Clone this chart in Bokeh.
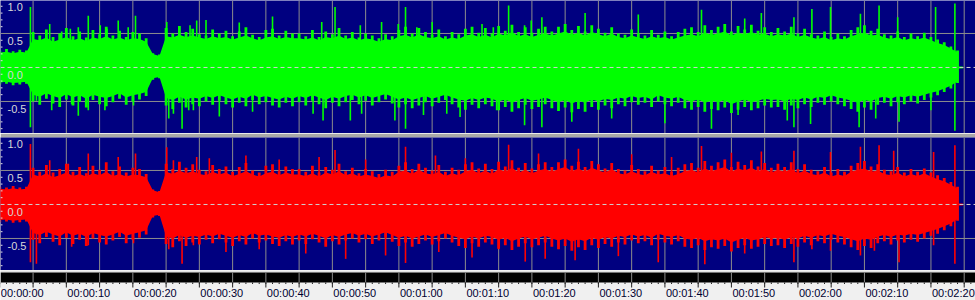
import numpy as np
from bokeh.plotting import figure
from bokeh.layouts import column
from bokeh.models import Range1d, Label, Span, BoxAnnotation
from bokeh.embed import file_html
from bokeh.resources import INLINE
from bokeh.core.properties import value

# ---------------- data ----------------
seconds = np.arange(145)          # one envelope sample per second of audio

# solid body of the waveform (per second)
left_upper = [0.22,0.23,0.21,0.23,0.22,
    0.42,0.40,0.44,0.38,0.41,0.45,0.40,0.43,0.39,0.44,0.42,0.46,0.41,0.44,0.40,0.43,0.42,0.38,
    0.20,0.17,
    0.46,0.44,0.48,0.45,0.47,0.44,0.42,0.46,0.43,0.45,0.41,0.44,0.47,0.43,0.40,0.44,0.46,0.42,0.45,0.43,
    0.43,0.41,0.44,0.40,0.45,0.43,0.47,0.42,0.44,0.40,0.43,0.41,0.38,0.42,0.40,0.46,0.48,0.44,0.49,0.45,
    0.43,0.46,0.41,0.44,0.42,0.47,0.49,0.45,0.48,0.44,0.50,0.47,0.52,0.46,0.49,0.45,0.48,0.50,0.47,
    0.50,0.53,0.48,0.51,0.47,0.52,0.49,0.46,0.50,0.45,0.43,0.47,0.44,0.42,0.46,0.43,0.45,0.41,0.44,0.47,
    0.49,0.46,0.51,0.48,0.50,0.53,0.47,0.51,0.49,0.52,0.48,0.50,0.46,
    0.49,0.47,0.50,0.45,0.48,0.44,0.42,0.45,0.40,0.43,0.41,0.46,0.49,0.51,0.47,0.48,0.44,0.42,0.45,0.40,
    0.43,0.41,0.44,0.40,0.36,0.33,0.28,0.22]
left_lower = [-0.22,-0.21,-0.23,-0.22,-0.21,
    -0.40,-0.43,-0.38,-0.42,-0.45,-0.39,-0.44,-0.41,-0.46,-0.40,-0.43,-0.45,-0.42,-0.38,-0.44,-0.41,-0.39,-0.36,
    -0.16,-0.14,
    -0.45,-0.48,-0.43,-0.47,-0.44,-0.46,-0.42,-0.45,-0.41,-0.44,-0.47,-0.43,-0.46,-0.40,-0.44,-0.42,-0.45,-0.47,-0.43,-0.46,
    -0.42,-0.45,-0.41,-0.44,-0.48,-0.43,-0.46,-0.42,-0.40,-0.44,-0.41,-0.45,-0.42,-0.39,-0.43,-0.47,-0.44,-0.48,-0.45,-0.42,
    -0.46,-0.43,-0.40,-0.44,-0.47,-0.49,-0.45,-0.48,-0.44,-0.46,-0.50,-0.47,-0.52,-0.48,-0.45,-0.49,-0.47,-0.44,-0.48,
    -0.51,-0.48,-0.53,-0.49,-0.52,-0.47,-0.50,-0.46,-0.48,-0.44,-0.46,-0.42,-0.45,-0.43,-0.47,-0.41,-0.44,-0.46,-0.43,-0.48,
    -0.50,-0.47,-0.52,-0.49,-0.51,-0.48,-0.54,-0.50,-0.47,-0.51,-0.49,-0.46,-0.48,
    -0.47,-0.50,-0.46,-0.48,-0.44,-0.47,-0.43,-0.45,-0.41,-0.44,-0.46,-0.49,-0.52,-0.48,-0.50,-0.45,-0.43,-0.46,-0.42,-0.44,
    -0.41,-0.43,-0.40,-0.37,-0.35,-0.31,-0.27,-0.20]
right_upper = [0.23,0.22,0.24,0.22,0.23,
    0.44,0.41,0.46,0.40,0.43,0.47,0.42,0.45,0.41,0.46,0.43,0.48,0.42,0.45,0.41,0.44,0.43,0.40,
    0.21,0.18,
    0.48,0.45,0.50,0.46,0.49,0.45,0.43,0.48,0.44,0.47,0.42,0.45,0.49,0.44,0.41,0.46,0.48,0.43,0.47,0.44,
    0.44,0.42,0.46,0.41,0.47,0.44,0.49,0.43,0.46,0.41,0.44,0.42,0.39,0.43,0.41,0.48,0.50,0.45,0.51,0.46,
    0.44,0.48,0.42,0.46,0.43,0.49,0.51,0.46,0.50,0.45,0.52,0.48,0.54,0.47,0.51,0.46,0.50,0.52,0.48,
    0.52,0.55,0.49,0.53,0.48,0.54,0.50,0.47,0.52,0.46,0.44,0.49,0.45,0.43,0.48,0.44,0.46,0.42,0.45,0.49,
    0.51,0.47,0.53,0.49,0.52,0.55,0.48,0.53,0.50,0.54,0.49,0.52,0.47,
    0.51,0.48,0.52,0.46,0.50,0.45,0.43,0.47,0.41,0.44,0.42,0.48,0.51,0.53,0.48,0.50,0.45,0.43,0.47,0.41,
    0.45,0.42,0.46,0.41,0.37,0.34,0.29,0.23]
right_lower = [-0.23,-0.22,-0.24,-0.23,-0.22,
    -0.42,-0.45,-0.40,-0.44,-0.47,-0.41,-0.46,-0.43,-0.48,-0.42,-0.45,-0.47,-0.44,-0.40,-0.46,-0.43,-0.41,-0.38,
    -0.17,-0.15,
    -0.47,-0.50,-0.45,-0.49,-0.46,-0.48,-0.44,-0.47,-0.43,-0.46,-0.49,-0.45,-0.48,-0.42,-0.46,-0.44,-0.47,-0.49,-0.45,-0.48,
    -0.44,-0.47,-0.43,-0.46,-0.50,-0.45,-0.48,-0.44,-0.42,-0.46,-0.43,-0.47,-0.44,-0.41,-0.45,-0.49,-0.46,-0.50,-0.47,-0.44,
    -0.48,-0.45,-0.42,-0.46,-0.49,-0.51,-0.47,-0.50,-0.46,-0.48,-0.52,-0.49,-0.54,-0.50,-0.47,-0.51,-0.49,-0.46,-0.50,
    -0.53,-0.50,-0.55,-0.51,-0.54,-0.49,-0.52,-0.48,-0.50,-0.46,-0.48,-0.44,-0.47,-0.45,-0.49,-0.43,-0.46,-0.48,-0.45,-0.50,
    -0.52,-0.49,-0.54,-0.51,-0.53,-0.50,-0.56,-0.52,-0.49,-0.53,-0.51,-0.48,-0.50,
    -0.49,-0.52,-0.48,-0.50,-0.46,-0.49,-0.45,-0.47,-0.43,-0.46,-0.48,-0.51,-0.54,-0.50,-0.52,-0.47,-0.45,-0.48,-0.44,-0.46,
    -0.43,-0.45,-0.42,-0.39,-0.36,-0.32,-0.28,-0.21]

# ragged fringe of short transients (per-second maxima)
left_fringe_up = [0.25,0.27,0.24,0.26,0.25,
    0.52,0.47,0.56,0.45,0.50,0.58,0.46,0.53,0.44,0.55,0.49,0.60,0.47,0.54,0.45,0.52,0.50,0.43,
    0.21,0.19,
    0.58,0.50,0.61,0.52,0.57,0.49,0.47,0.56,0.50,0.54,0.46,0.53,0.59,0.48,0.45,0.55,0.57,0.47,0.54,0.50,
    0.50,0.46,0.55,0.45,0.53,0.49,0.58,0.47,0.52,0.44,0.50,0.47,0.43,0.49,0.46,0.55,0.60,0.50,0.58,0.52,
    0.48,0.56,0.46,0.52,0.49,0.57,0.60,0.51,0.58,0.50,0.61,0.54,0.63,0.52,0.59,0.51,0.57,0.60,0.53,
    0.60,0.64,0.55,0.61,0.53,0.62,0.57,0.51,0.59,0.50,0.48,0.56,0.50,0.47,0.55,0.48,0.53,0.46,0.52,0.57,
    0.59,0.52,0.62,0.55,0.60,0.64,0.53,0.61,0.56,0.63,0.54,0.59,0.52,
    0.58,0.53,0.60,0.50,0.57,0.49,0.47,0.53,0.45,0.50,0.46,0.55,0.59,0.62,0.54,0.57,0.49,0.47,0.53,0.45,
    0.50,0.46,0.51,0.45,0.41,0.37,0.31,0.25]
left_fringe_dn = [-0.25,-0.24,-0.26,-0.25,-0.24,
    -0.50,-0.55,-0.46,-0.53,-0.58,-0.47,-0.56,-0.50,-0.59,-0.48,-0.54,-0.57,-0.51,-0.46,-0.55,-0.50,-0.47,-0.42,
    -0.18,-0.16,
    -0.56,-0.61,-0.52,-0.59,-0.54,-0.57,-0.50,-0.55,-0.49,-0.54,-0.59,-0.52,-0.57,-0.48,-0.54,-0.51,-0.56,-0.59,-0.52,-0.57,
    -0.51,-0.56,-0.49,-0.54,-0.60,-0.52,-0.57,-0.51,-0.48,-0.54,-0.49,-0.56,-0.51,-0.47,-0.53,-0.59,-0.54,-0.60,-0.56,-0.51,
    -0.57,-0.52,-0.48,-0.54,-0.59,-0.62,-0.55,-0.60,-0.54,-0.57,-0.63,-0.58,-0.65,-0.60,-0.55,-0.61,-0.58,-0.54,-0.60,
    -0.64,-0.59,-0.66,-0.61,-0.65,-0.58,-0.62,-0.56,-0.60,-0.54,-0.57,-0.51,-0.55,-0.52,-0.58,-0.50,-0.54,-0.57,-0.52,-0.60,
    -0.62,-0.58,-0.65,-0.61,-0.63,-0.59,-0.67,-0.62,-0.58,-0.63,-0.60,-0.56,-0.59,
    -0.58,-0.62,-0.56,-0.60,-0.54,-0.58,-0.52,-0.55,-0.50,-0.54,-0.57,-0.61,-0.65,-0.59,-0.62,-0.55,-0.52,-0.57,-0.51,-0.54,
    -0.50,-0.53,-0.48,-0.44,-0.41,-0.36,-0.31,-0.23]
right_fringe_up = [0.26,0.25,0.27,0.25,0.26,
    0.54,0.48,0.58,0.47,0.52,0.60,0.48,0.55,0.46,0.57,0.51,0.62,0.49,0.56,0.47,0.54,0.52,0.45,
    0.22,0.20,
    0.60,0.52,0.63,0.54,0.59,0.51,0.49,0.58,0.52,0.56,0.48,0.55,0.61,0.50,0.47,0.57,0.59,0.49,0.56,0.52,
    0.52,0.48,0.57,0.47,0.55,0.51,0.60,0.49,0.54,0.46,0.52,0.49,0.45,0.51,0.48,0.57,0.62,0.52,0.60,0.54,
    0.50,0.58,0.48,0.54,0.51,0.59,0.62,0.53,0.60,0.52,0.63,0.56,0.65,0.54,0.61,0.53,0.59,0.62,0.55,
    0.62,0.66,0.57,0.63,0.55,0.64,0.59,0.53,0.61,0.52,0.50,0.58,0.52,0.49,0.57,0.50,0.55,0.48,0.54,0.59,
    0.61,0.54,0.64,0.57,0.62,0.66,0.55,0.63,0.58,0.65,0.56,0.61,0.54,
    0.60,0.55,0.62,0.52,0.59,0.51,0.49,0.55,0.47,0.52,0.48,0.57,0.61,0.64,0.56,0.59,0.51,0.49,0.55,0.47,
    0.52,0.48,0.53,0.47,0.43,0.39,0.33,0.26]
right_fringe_dn = [-0.26,-0.25,-0.27,-0.26,-0.25,
    -0.52,-0.57,-0.48,-0.55,-0.60,-0.49,-0.58,-0.52,-0.61,-0.50,-0.56,-0.59,-0.53,-0.48,-0.57,-0.52,-0.49,-0.44,
    -0.19,-0.17,
    -0.58,-0.63,-0.54,-0.61,-0.56,-0.59,-0.52,-0.57,-0.51,-0.56,-0.61,-0.54,-0.59,-0.50,-0.56,-0.53,-0.58,-0.61,-0.54,-0.59,
    -0.53,-0.58,-0.51,-0.56,-0.62,-0.54,-0.59,-0.53,-0.50,-0.56,-0.51,-0.58,-0.53,-0.49,-0.55,-0.61,-0.56,-0.62,-0.58,-0.53,
    -0.59,-0.54,-0.50,-0.56,-0.61,-0.64,-0.57,-0.62,-0.56,-0.59,-0.65,-0.60,-0.67,-0.62,-0.57,-0.63,-0.60,-0.56,-0.62,
    -0.66,-0.61,-0.68,-0.63,-0.67,-0.60,-0.64,-0.58,-0.62,-0.56,-0.59,-0.53,-0.57,-0.54,-0.60,-0.52,-0.56,-0.59,-0.54,-0.62,
    -0.64,-0.60,-0.67,-0.63,-0.65,-0.61,-0.69,-0.64,-0.60,-0.65,-0.62,-0.58,-0.61,
    -0.60,-0.64,-0.58,-0.62,-0.56,-0.60,-0.54,-0.57,-0.52,-0.56,-0.59,-0.63,-0.67,-0.61,-0.64,-0.57,-0.54,-0.59,-0.53,-0.56,
    -0.52,-0.55,-0.50,-0.46,-0.43,-0.38,-0.32,-0.24]

# isolated peaks (time in s, amplitude)
left_peak_up_t = [4.6,7.5,9.3,10.6,11.8,13.3,15.1,16.1,17.8,19.3,20.4,25.1,28.6,29.6,31.0,36.0,41.0,48.4,50.4,54.2,
    57.4,59.9,61.0,62.7,65.0,72.5,74.2,76.5,78.9,79.9,81.5,88.0,96.0,105.5,112.0,114.5,119.4,122.1,124.9,129.4,
    132.2,135.0,140.7,143.6]
left_peak_up_v = [0.89,0.64,0.53,0.57,0.59,0.76,0.62,0.57,0.69,0.59,0.76,0.67,0.62,0.69,0.70,0.66,0.75,0.67,0.89,0.62,
    0.67,0.64,0.89,0.59,0.67,0.64,0.59,0.91,0.62,0.69,0.74,0.80,0.78,0.85,0.72,0.80,0.74,0.86,0.89,0.79,
    0.91,0.74,0.89,0.94]
left_peak_dn_t = [4.6,5.5,7.8,10.8,11.8,13.3,15.8,20.1,25.4,26.1,27.4,28.4,29.1,33.0,38.0,47.1,48.6,52.7,54.4,59.4,
    61.0,63.7,67.2,69.2,74.7,78.9,81.5,86.0,92.0,100.0,107.0,111.0,118.4,119.4,121.9,129.2,131.7,135.2,140.0,143.6]
left_peak_dn_v = [-0.88,-0.49,-0.63,-0.54,-0.71,-0.63,-0.63,-0.56,-0.75,-0.68,-0.90,-0.63,-0.63,-0.72,-0.65,-0.68,-0.78,-0.78,-0.68,-0.78,
    -0.90,-0.70,-0.68,-0.73,-0.63,-0.85,-0.88,-0.80,-0.75,-0.82,-0.90,-0.70,-0.78,-0.88,-0.83,-0.88,-0.75,-0.80,-0.63,-0.93]
right_peak_up_t = [4.6,7.5,10.3,13.3,17.8,20.4,25.1,26.1,29.6,31.5,37.0,42.0,48.0,50.4,55.0,61.0,65.5,70.0,76.5,81.0,
    87.0,95.0,101.0,105.5,110.0,114.5,119.4,124.9,129.4,132.2,134.4,140.4,143.6]
right_peak_up_v = [0.89,0.65,0.60,0.75,0.70,0.75,0.84,0.65,0.70,0.68,0.72,0.66,0.70,0.80,0.66,0.85,0.72,0.68,0.88,0.75,
    0.82,0.74,0.70,0.86,0.76,0.78,0.79,0.77,0.85,0.87,0.79,0.77,0.87]
right_peak_dn_t = [4.6,5.5,10.8,13.3,15.1,20.1,25.4,27.4,29.1,34.0,39.0,46.0,52.0,58.0,61.0,66.0,71.0,75.0,79.0,82.0,
    86.5,93.0,99.0,106.0,112.0,119.4,122.1,124.9,129.4,131.5,135.2,140.4,143.6]
right_peak_dn_v = [-0.85,-0.87,-0.62,-0.60,-0.55,-0.57,-0.66,-0.87,-0.60,-0.70,-0.66,-0.72,-0.80,-0.75,-0.86,-0.70,-0.78,-0.66,-0.84,-0.80,
    -0.82,-0.76,-0.85,-0.88,-0.72,-0.85,-0.66,-0.68,-0.75,-0.68,-0.85,-0.60,-0.87]

tail_t = [144.0, 144.8]          # faint near-silent tail after the music stops
tail_level = [0.0, 0.0]

grid_times = [0,5,10,15,20,25,30,35,40,45,50,55,60,65,70,75,80,85,90,95,100,105,110,115,120,125,130,135,140,145]
label_times = [0,10,20,30,40,50,60,70,80,90,100,110,120,130,140]
time_labels = ["00:00:00","00:00:10","00:00:20","00:00:30","00:00:40","00:00:50","00:01:00","00:01:10",
               "00:01:20","00:01:30","00:01:40","00:01:50","00:02:00","00:02:10","00:02:20"]
ruler_seconds = np.arange(0, 147)
amp_ticks = [1.0, 0.5, 0.0, -0.5]
amp_labels = ["1.0", "0.5", "0.0", "-0.5"]
amp_minor = [0.9,0.8,0.7,0.6,0.4,0.3,0.2,0.1,-0.1,-0.2,-0.3,-0.4,-0.6,-0.7,-0.8,-0.9]

# ---------------- styling ----------------
NAVY = "#000080"
GRID = "#8c8c8c"
FONT = "Liberation Sans"
W = 975
xr = Range1d(0.1, 146.7)


def channel(upper, lower, fr_up, fr_dn, up_t, up_v, dn_t, dn_v, color, height, top_border):
    p = figure(width=W, height=height, x_range=xr, y_range=Range1d(-0.971, 0.985),
               output_backend="svg", toolbar_location=None, x_axis_type=None, y_axis_type=None,
               min_border=0, min_border_top=top_border, title=None,
               background_fill_color=NAVY, border_fill_color="#a8a8a8", outline_line_color=None)
    for t in grid_times:
        p.add_layout(Span(location=t, dimension="height", line_color=GRID, line_width=1, level="underlay"))
    for a in (0.5, -0.5, 1.0):
        p.add_layout(Span(location=a, dimension="width", line_color=GRID, line_width=1, level="underlay"))
    p.varea(x=seconds, y1=lower, y2=upper, fill_color=color)
    p.vbar(x=seconds, bottom=fr_dn, top=fr_up, width=0.42, fill_color=color, line_color=None)
    p.segment(x0=up_t, y0=[0] * len(up_t), x1=up_t, y1=up_v, line_color=color, line_width=1.6)
    p.segment(x0=dn_t, y0=[0] * len(dn_t), x1=dn_t, y1=dn_v, line_color=color, line_width=1.6)
    p.line(x=tail_t, y=tail_level, line_color=color, line_width=2)
    # small amplitude ticks on the left edge
    p.segment(x0=[xr.start] * len(amp_minor), y0=amp_minor, x1=[xr.start + 0.3] * len(amp_minor), y1=amp_minor,
              line_color="#e0e0e0", line_width=1)
    p.add_layout(Span(location=0, dimension="width", line_color="#d0d0d0", line_width=1,
                      line_dash="4 3", level="annotation"))
    for a, s in zip(amp_ticks, amp_labels):
        p.add_layout(Label(x=7, x_units="screen", y=a, y_offset=-7.5, text=s,
                           text_baseline="middle", text_align="left",
                           text_font=FONT, text_font_size="11px", text_color="#d8d8d8"))
    return p


top = channel(left_upper, left_lower, left_fringe_up, left_fringe_dn,
              left_peak_up_t, left_peak_up_v, left_peak_dn_t, left_peak_dn_v, "#00ff00", 133, 0)
bottom = channel(right_upper, right_lower, right_fringe_up, right_fringe_dn,
                 right_peak_up_t, right_peak_up_v, right_peak_dn_t, right_peak_dn_v, "#ff0000", 137, 4)

ruler = figure(width=W, height=30, x_range=xr, y_range=Range1d(0, 30),
               output_backend="svg", toolbar_location=None, x_axis_type=None, y_axis_type=None,
               min_border=0, title=None, background_fill_color="#f0f0f0", border_fill_color="#f0f0f0",
               outline_line_color=None)
ruler.add_layout(BoxAnnotation(bottom=28, top=30, fill_color="#e0e0e0", fill_alpha=1, line_color=None, level="underlay"))
ruler.add_layout(BoxAnnotation(bottom=18, top=28, fill_color="#000000", fill_alpha=1, line_color=None, level="underlay"))
ruler.segment(x0=grid_times, y0=[18] * len(grid_times), x1=grid_times, y1=[28] * len(grid_times),
              line_color=GRID, line_width=1)
ruler.segment(x0=ruler_seconds, y0=[18] * len(ruler_seconds), x1=ruler_seconds, y1=[16.5] * len(ruler_seconds),
              line_color="#202020", line_width=1)
ruler.segment(x0=grid_times, y0=[18] * len(grid_times), x1=grid_times, y1=[13] * len(grid_times),
              line_color="#202020", line_width=1)
ruler.text(x=label_times, y=[7.3] * len(label_times), text=time_labels, x_offset=1,
           text_baseline="middle", text_align="left", text_font=value(FONT),
           text_font_size="11px", text_color="#000030")

layout = column(top, bottom, ruler, spacing=0)
open("out.html", "w").write(file_html(layout, INLINE))
